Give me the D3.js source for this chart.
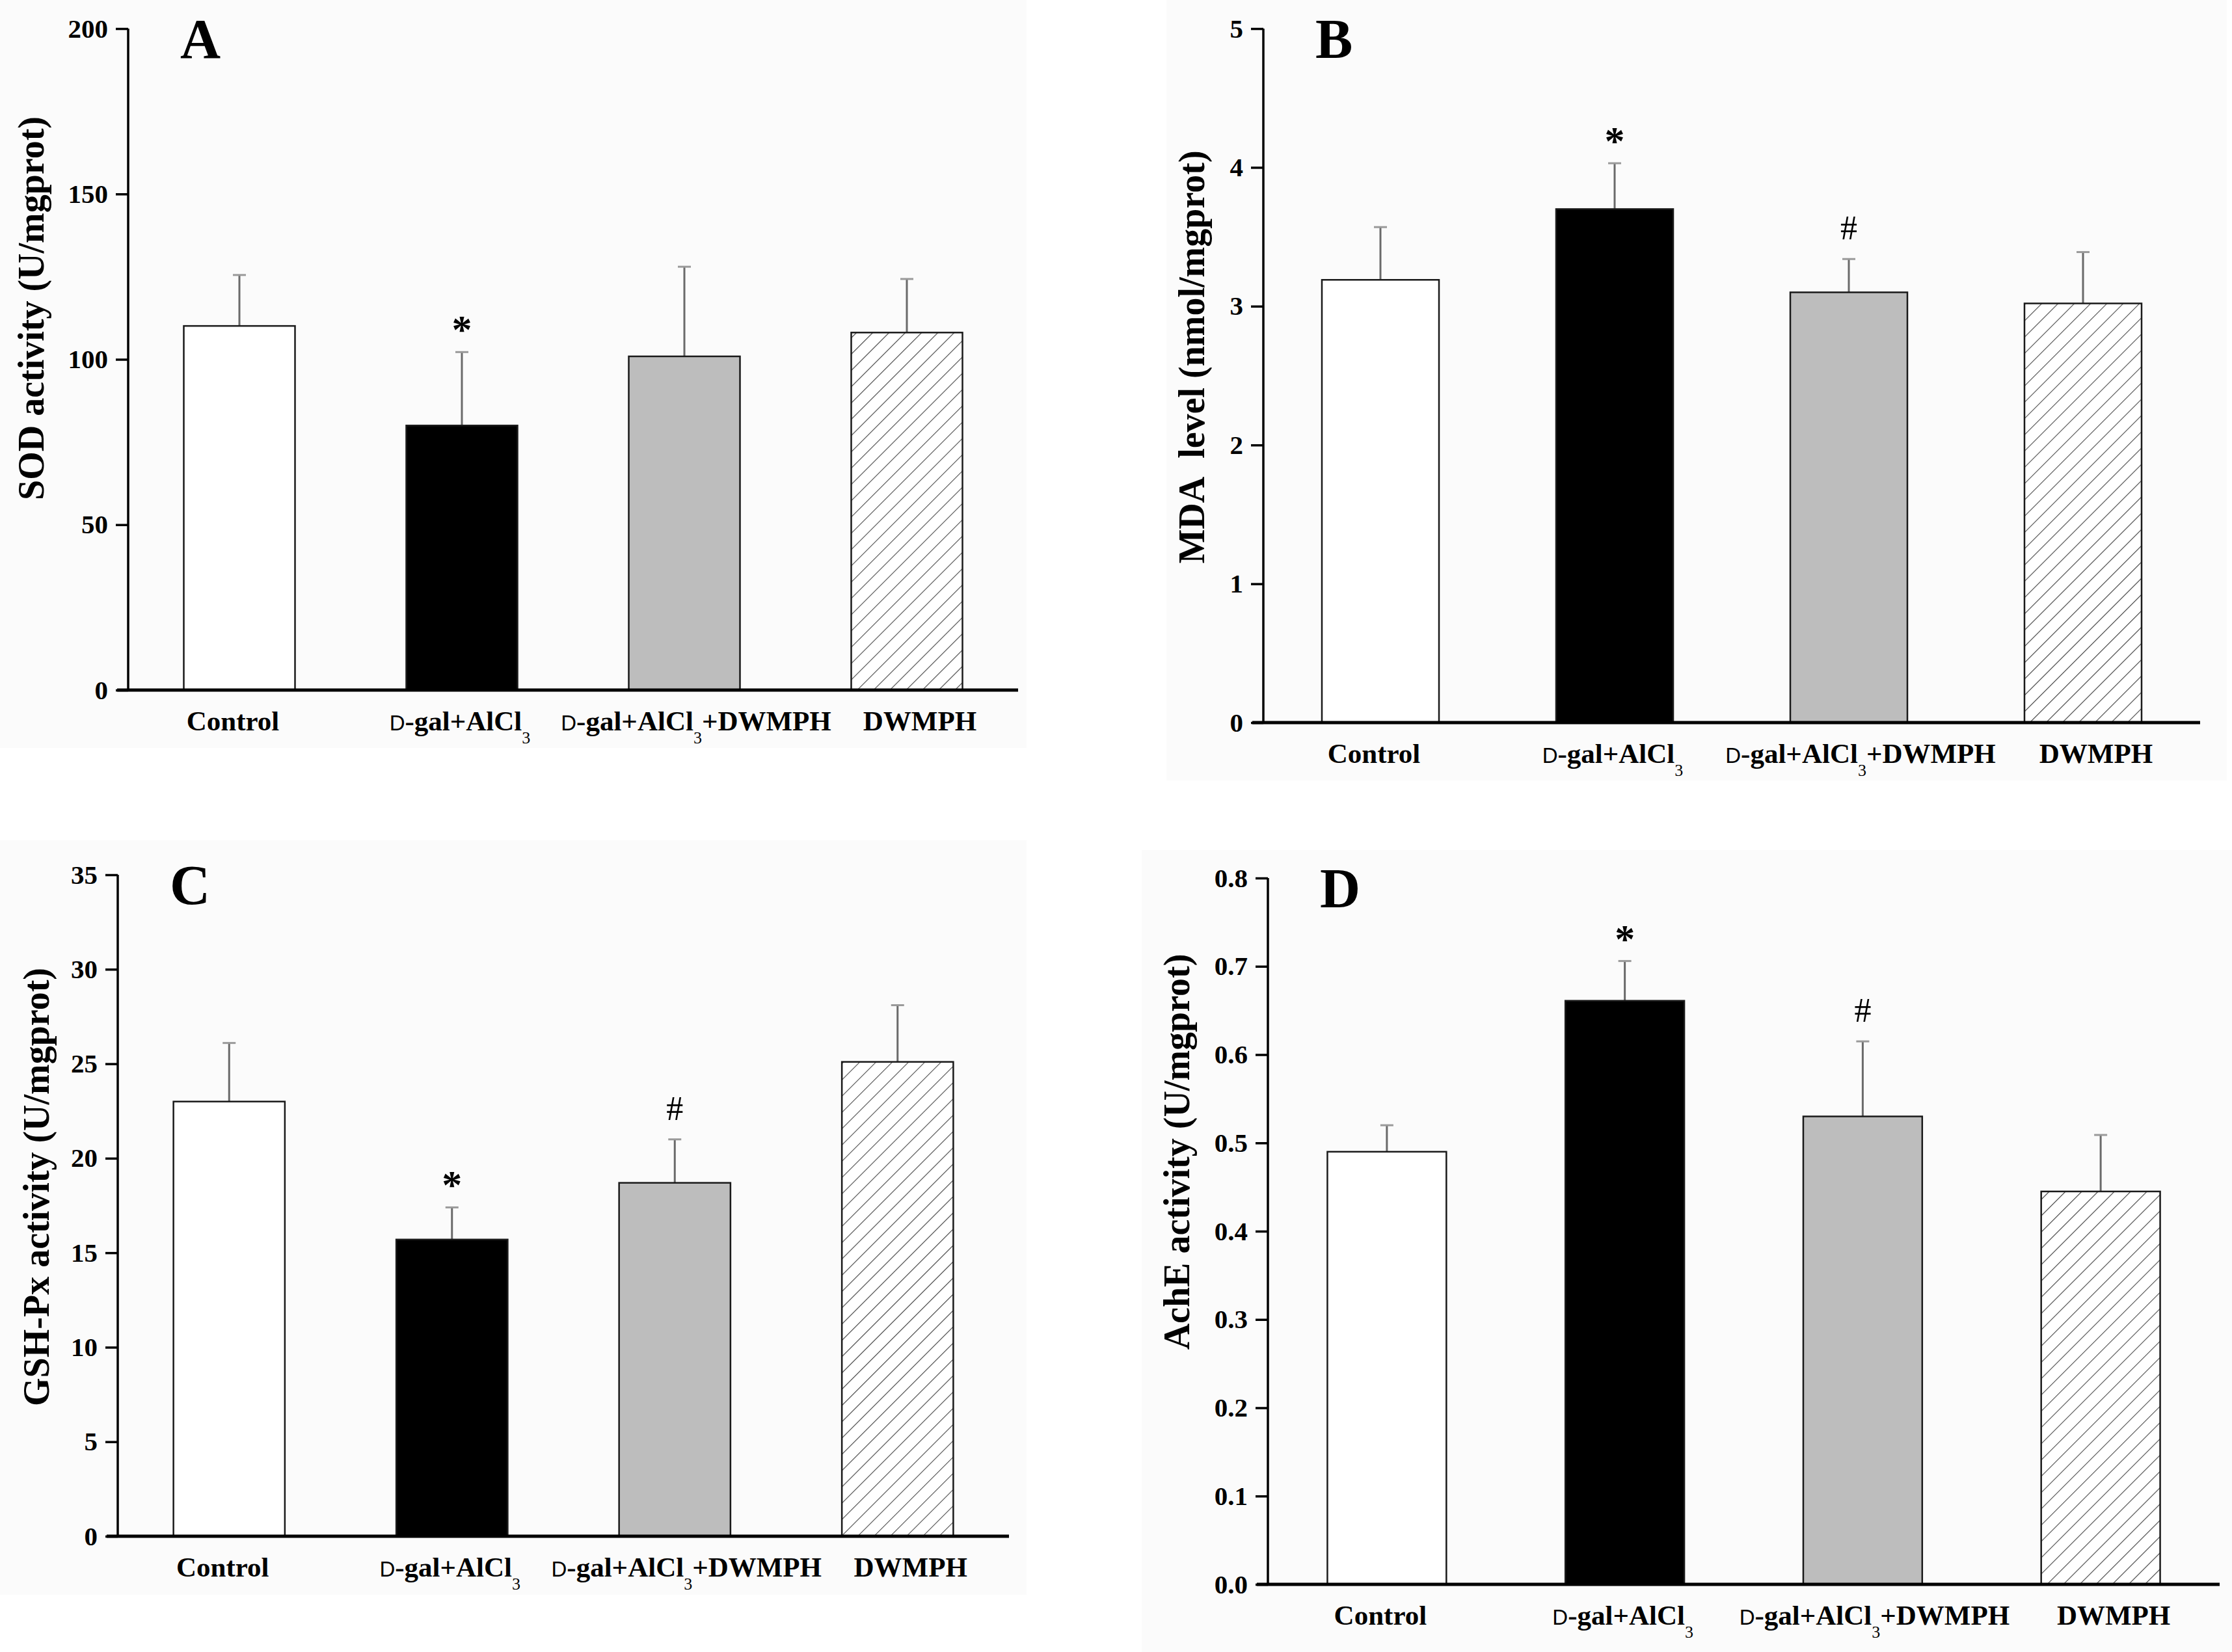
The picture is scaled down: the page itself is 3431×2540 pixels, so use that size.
<!DOCTYPE html>
<html>
<head>
<meta charset="utf-8">
<script src="https://cdn.jsdelivr.net/npm/d3@7/dist/d3.min.js"></script>
<style>
  body { margin: 0; background: #fff; }
  text { font-family: "Liberation Serif", "Times New Roman", serif; }
</style>
</head>
<body>
<script>
// groups (same for every panel)
var groups = ["Control", "D-gal+AlCl3", "D-gal+AlCl3+DWMPH", "DWMPH"];

// A - SOD
var sodMean = [110.1, 80.0, 100.9, 108.1];
var sodErr  = [15.4, 22.2, 27.1, 16.2];
var sodSig  = ["", "*", "", ""];
var sodTicks = [0, 50, 100, 150, 200];

// B - MDA
var mdaMean = [3.19, 3.70, 3.10, 3.02];
var mdaErr  = [0.38, 0.33, 0.24, 0.37];
var mdaSig  = ["", "*", "#", ""];
var mdaTicks = [0, 1, 2, 3, 4, 5];

// C - GSH-Px
var gshMean = [23.0, 15.7, 18.7, 25.1];
var gshErr  = [3.1, 1.7, 2.3, 3.0];
var gshSig  = ["", "*", "#", ""];
var gshTicks = [0, 5, 10, 15, 20, 25, 30, 35];

// D - AchE
var acheMean = [0.49, 0.661, 0.53, 0.445];
var acheErr  = [0.03, 0.045, 0.085, 0.064];
var acheSig  = ["", "*", "#", ""];
var acheTicks = [0, 0.1, 0.2, 0.3, 0.4, 0.5, 0.6, 0.7, 0.8];

var W = 3431, H = 2540;

var svg = d3.select("body").append("svg")
  .attr("width", W).attr("height", H);

// fills
var defs = svg.append("defs");
var hatch = defs.append("pattern")
  .attr("id", "hatch")
  .attr("patternUnits", "userSpaceOnUse")
  .attr("width", 17.7).attr("height", 17.7)
  .attr("patternTransform", "rotate(45)");
hatch.append("rect").attr("width", 17.7).attr("height", 17.7).attr("fill", "#fff");
hatch.append("line")
  .attr("x1", 0).attr("y1", 0).attr("x2", 0).attr("y2", 17.7)
  .attr("stroke", "#444").attr("stroke-width", 2.2);

var fills = ["#ffffff", "#000000", "#bdbdbd", "url(#hatch)"];
var labelShift = [-10, -3, 18, 20];

var panels = [
  {letter: "A", mean: sodMean, err: sodErr, sig: sodSig, ticks: sodTicks, fmt: d3.format("d"),
   title: "SOD activity (U/mgprot)", left: 197, right: 1565, top: 44, bottom: 1061,
   titleX: 47, titleY: 474, bg: [0, 0, 1578, 1150]},
  {letter: "B", mean: mdaMean, err: mdaErr, sig: mdaSig, ticks: mdaTicks, fmt: d3.format("d"),
   title: "MDA\u00a0\u00a0level (nmol/mgprot)", left: 1942, right: 3382, top: 44, bottom: 1111,
   titleX: 1831, titleY: 549, bg: [1793, 0, 1630, 1200]},
  {letter: "C", mean: gshMean, err: gshErr, sig: gshSig, ticks: gshTicks, fmt: d3.format("d"),
   title: "GSH-Px activity (U/mgprot)", left: 181, right: 1551, top: 1345, bottom: 2362,
   titleX: 55, titleY: 1825, bg: [0, 1292, 1578, 1160]},
  {letter: "D", mean: acheMean, err: acheErr, sig: acheSig, ticks: acheTicks, fmt: d3.format(".1f"),
   title: "AchE activity (U/mgprot)", left: 1949, right: 3412, top: 1350, bottom: 2436,
   titleX: 1808, titleY: 1771, bg: [1755, 1307, 1676, 1233]}
];

panels.forEach(drawPanel);

function drawPanel(p) {
  var g = svg.append("g");

  g.append("rect")
    .attr("x", p.bg[0]).attr("y", p.bg[1])
    .attr("width", p.bg[2]).attr("height", p.bg[3])
    .attr("fill", "#fbfbfb");

  var x = d3.scaleBand()
    .domain(groups)
    .range([p.left, p.right])
    .paddingInner(0.5)
    .paddingOuter(0.25);

  var y = d3.scaleLinear()
    .domain([p.ticks[0], p.ticks[p.ticks.length - 1]])
    .range([p.bottom, p.top]);

  var rows = groups.map(function(k, i) {
    return {key: k, i: i, mean: p.mean[i], err: p.err[i], sig: p.sig[i]};
  });

  // error bars (upper only)
  g.selectAll(".eb").data(rows).enter().append("line")
    .attr("x1", function(d) { return x(d.key) + x.bandwidth() / 2; })
    .attr("x2", function(d) { return x(d.key) + x.bandwidth() / 2; })
    .attr("y1", function(d) { return y(d.mean); })
    .attr("y2", function(d) { return y(d.mean + d.err); })
    .attr("stroke", "#6a6a6a").attr("stroke-width", 3);

  g.selectAll(".cap").data(rows).enter().append("line")
    .attr("x1", function(d) { return x(d.key) + x.bandwidth() / 2 - 10; })
    .attr("x2", function(d) { return x(d.key) + x.bandwidth() / 2 + 10; })
    .attr("y1", function(d) { return y(d.mean + d.err); })
    .attr("y2", function(d) { return y(d.mean + d.err); })
    .attr("stroke", "#9a9a9a").attr("stroke-width", 3);

  // bars
  g.selectAll(".bar").data(rows).enter().append("rect")
    .attr("x", function(d) { return x(d.key); })
    .attr("y", function(d) { return y(d.mean); })
    .attr("width", x.bandwidth())
    .attr("height", function(d) { return y(0) - y(d.mean); })
    .attr("fill", function(d) { return fills[d.i]; })
    .attr("stroke", "#1a1a1a")
    .attr("stroke-width", 2.5);

  // significance marks
  g.selectAll(".sig").data(rows.filter(function(d) { return d.sig; })).enter().append("text")
    .attr("x", function(d) { return x(d.key) + x.bandwidth() / 2; })
    .attr("y", function(d) { return y(d.mean + d.err) - (d.sig == "*" ? 14 : 30); })
    .attr("text-anchor", "middle")
    .attr("font-size", function(d) { return d.sig == "*" ? 62 : 52; })
    .attr("font-weight", function(d) { return d.sig == "*" ? "bold" : "normal"; })
    .text(function(d) { return d.sig; });

  // y axis
  var yAxis = g.append("g")
    .attr("transform", "translate(" + p.left + ",0)")
    .call(d3.axisLeft(y).tickValues(p.ticks).tickFormat(p.fmt).tickSize(19).tickPadding(12));
  yAxis.select(".domain").attr("stroke", "#000").attr("stroke-width", 3.5)
    .attr("d", "M0," + p.top + "V" + p.bottom);
  yAxis.selectAll(".tick line").attr("stroke", "#000").attr("stroke-width", 3.5);
  yAxis.selectAll(".tick text")
    .attr("font-family", "Liberation Serif, serif")
    .attr("font-size", 41).attr("font-weight", "bold").attr("fill", "#000");

  // x axis baseline
  g.append("line")
    .attr("x1", p.left - 17).attr("x2", p.right)
    .attr("y1", y(0)).attr("y2", y(0))
    .attr("stroke", "#000").attr("stroke-width", 5);

  // category labels
  rows.forEach(function(d) {
    var t = g.append("text")
      .attr("x", x(d.key) + x.bandwidth() / 2 + labelShift[d.i])
      .attr("y", y(0) + 62)
      .attr("text-anchor", "middle")
      .attr("font-size", 43).attr("font-weight", "bold");
    var s = d.key;
    if (s.indexOf("D-") == 0) {
      t.append("tspan").attr("font-family", "Liberation Sans, sans-serif")
        .attr("font-weight", "normal").attr("font-size", 33).text("D");
      s = s.slice(1);
    }
    var parts = s.split("AlCl3");
    t.append("tspan").text(parts[0]);
    if (parts.length > 1) {
      t.append("tspan").text("AlCl");
      t.append("tspan").attr("font-size", 26).attr("font-weight", "normal").attr("dy", 20).text("3");
      if (parts[1]) t.append("tspan").attr("dy", -20).text(parts[1]);
    }
  });

  // y title
  g.append("text")
    .attr("transform", "translate(" + p.titleX + "," + p.titleY + ") rotate(-90)")
    .attr("text-anchor", "middle")
    .attr("dy", "0.35em")
    .attr("font-size", 56).attr("font-weight", "bold")
    .text(p.title);

  // panel letter
  g.append("text")
    .attr("x", p.left + 80).attr("y", p.top + 45)
    .attr("font-size", 86).attr("font-weight", "bold")
    .text(p.letter);
}
</script>
</body>
</html>
